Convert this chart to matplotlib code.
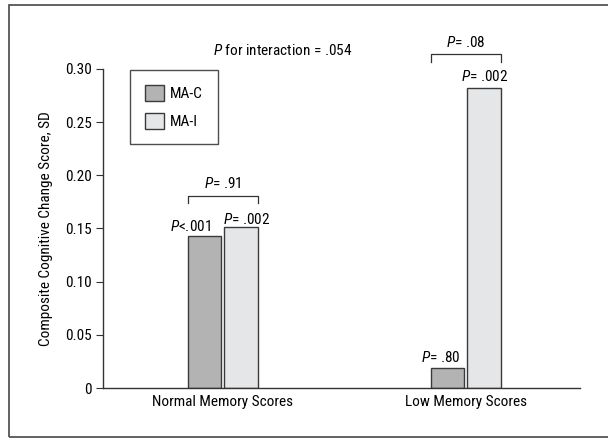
import numpy as np
import matplotlib.pyplot as plt
from matplotlib import font_manager
from matplotlib.patches import Rectangle

have = {f.name for f in font_manager.fontManager.ttflist}
fam = 'DejaVu Sans'
for cand in ['Liberation Sans Narrow', 'Roboto Condensed', 'Open Sans Condensed', 'Liberation Sans', 'Roboto']:
    if cand in have:
        fam = cand
        break

plt.rcParams['font.family'] = [fam, 'DejaVu Sans']
plt.rcParams['font.size'] = 11
plt.rcParams['mathtext.fontset'] = 'custom'
plt.rcParams['mathtext.rm'] = fam
plt.rcParams['mathtext.it'] = fam + ':italic'

groups = ['Normal Memory Scores', 'Low Memory Scores']
series = ['MA-C', 'MA-I']
ma_c = [0.143, 0.019]
ma_i = [0.151, 0.282]
p_ma_c = ['$P$<.001', '$P$= .80']
p_ma_i = ['$P$= .002', '$P$= .002']
p_between = ['$P$= .91', '$P$= .08']
p_interaction = '$P$ for interaction = .054'

col_c = '#b3b3b3'
col_i = '#e5e6e8'
edge = '#3a3a3a'
fs = 11

fig = plt.figure(figsize=(6.08, 4.38), dpi=100)
ax = fig.add_axes([103/608, 1-388/438, 477/608, 319/438])

x = np.arange(len(groups))
w = 0.136
off = 0.076
ax.bar(x - off, ma_c, w, color=col_c, edgecolor=edge, linewidth=1, label=series[0])
ax.bar(x + off, ma_i, w, color=col_i, edgecolor=edge, linewidth=1, label=series[1])

ax.set_xlim(-0.492, 1.471)
ax.set_ylim(0, 0.30)
ax.set_yticks([0, 0.05, 0.10, 0.15, 0.20, 0.25, 0.30])
ax.set_yticklabels(['0', '0.05', '0.10', '0.15', '0.20', '0.25', '0.30'])
ax.set_xticks(x)
ax.set_xticklabels(groups)
ax.tick_params(axis='x', length=0, pad=5, labelsize=fs)
ax.tick_params(axis='y', length=5, width=0.8, color='#333333', pad=3, labelsize=fs)
for s in ['top', 'right']:
    ax.spines[s].set_visible(False)
for s in ['left', 'bottom']:
    ax.spines[s].set_color('#333333')
    ax.spines[s].set_linewidth(1)
ax.set_ylabel('Composite Cognitive Change Score, SD', fontsize=fs, labelpad=9)

# p values above bars
dx_c = [-0.058, -0.025]
dy_c = [0.009, 0.010]
dx_i = [0.023, 0.002]
dy_i = [0.007, 0.011]
for i in range(len(groups)):
    ax.text(x[i] - off + dx_c[i], ma_c[i] + dy_c[i], p_ma_c[i], ha='center', va='center', fontsize=fs)
    ax.text(x[i] + off + dx_i[i], ma_i[i] + dy_i[i], p_ma_i[i], ha='center', va='center', fontsize=fs)

# brackets
def bracket(xc, ytop, label):
    x0 = xc - off - w/2
    x1 = xc + off + w/2
    ax.plot([x0, x0, x1, x1], [ytop - 0.007, ytop, ytop, ytop - 0.007],
            color='#333333', lw=0.9, clip_on=False)
    ax.text(xc, ytop + 0.011, label, ha='center', va='center', fontsize=fs)

bracket(x[0], 0.181, p_between[0])
bracket(x[1], 0.314, p_between[1])

ax.text(0.249, 0.317, p_interaction, ha='center', va='center', fontsize=fs)

leg = ax.legend(loc='upper left', bbox_to_anchor=(0.0566, 0.997), borderaxespad=0,
                frameon=True, fancybox=False, edgecolor='#222222',
                handlelength=1.2, handleheight=1.25, labelspacing=0.75,
                handletextpad=0.4, borderpad=1.0, fontsize=fs)
leg.get_frame().set_linewidth(1)

fig.add_artist(Rectangle((9/608, 1-437/438), 610/608, 432/438, transform=fig.transFigure,
                         fill=False, edgecolor='#555555', linewidth=1.3))

fig.savefig('out.png', dpi=100)
